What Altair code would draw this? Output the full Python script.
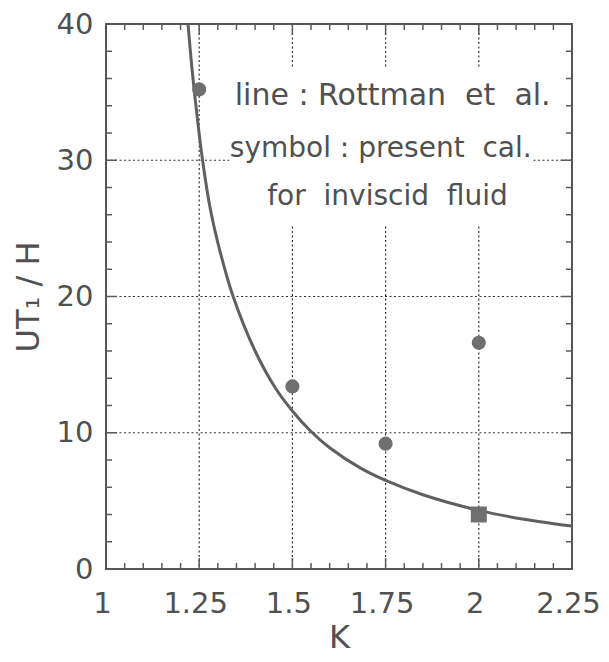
import altair as alt
import pandas as pd

# ---- data ----
# Rottman et al. curve (line)
curve_k = [1.220, 1.228, 1.240, 1.259, 1.280, 1.306, 1.341, 1.400, 1.454, 1.500,
           1.548, 1.600, 1.683, 1.750, 1.850, 2.000, 2.100, 2.250]
curve_u = [40.0, 37.5, 34.3, 30.0, 26.4, 23.3, 20.0, 16.0, 13.3, 11.6,
           10.15, 8.9, 7.4, 6.5, 5.45, 4.3, 3.75, 3.15]

# present calculation (symbols)
circle_k = [1.25, 1.5, 1.75, 2.0]
circle_u = [35.2, 13.4, 9.2, 16.6]
square_k = [2.0]
square_u = [4.0]

# axes
x_ticks = [1, 1.25, 1.5, 1.75, 2, 2.25]
y_ticks = [0, 10, 20, 30, 40]
x_grid = [1.25, 1.5, 1.75, 2.0]
y_grid = [10, 20, 30]
x_minor = [1.05, 1.10, 1.15, 1.20, 1.30, 1.35, 1.40, 1.45, 1.55, 1.60, 1.65, 1.70,
           1.80, 1.85, 1.90, 1.95, 2.05, 2.10, 2.15, 2.20]
y_minor = [2, 4, 6, 8, 12, 14, 16, 18, 22, 24, 26, 28, 32, 34, 36, 38]

# annotation (non-breaking spaces keep the wide word gaps)
NB = "\u00a0"
note_text = ["line" + NB + ":" + NB + "Rottman" + NB * 2 + "et" + NB * 2 + "al.",
             "symbol" + NB + ":" + NB + "present" + NB * 2 + "cal.",
             "for" + NB * 2 + "inviscid" + NB * 2 + "fluid"]
note_k = [1.769, 1.737, 1.755]
note_u = [34.06, 30.24, 26.7]
note_size = [30, 28, 28]
# white box behind the annotation (hides grid lines)
box_k = [1.331, 2.142]
box_u = [25.2, 36.8]

W, H = 466, 545
FONT = "DejaVu Sans"
TXT = "#505050"
INK = "#5a5a5a"

xs = alt.Scale(domain=[1, 2.25], nice=False, zero=False)
ys = alt.Scale(domain=[0, 40], nice=False, zero=False)

X_AX = alt.Axis(values=x_ticks, format=".3~g", title="K", grid=False, ticks=False,
                domain=False, labelFont=FONT, labelFontSize=29, labelColor=TXT,
                labelPadding=20, labelFlush=False, labelOffset=-4, tickSize=0,
                titleFont=FONT, titleFontSize=32, titleFontWeight="normal",
                titleColor=TXT, titleBaseline="alphabetic", titleY=78)
Y_AX = alt.Axis(values=y_ticks, format="d", title="UT\u2081 / H", grid=False,
                ticks=False, domain=False, labelFont=FONT, labelFontSize=29,
                labelColor=TXT, labelPadding=13, labelFlush=False, tickSize=0,
                titleFont=FONT, titleFontSize=32, titleFontWeight="normal",
                titleColor=TXT, titleAngle=270, titleBaseline="alphabetic",
                titleAlign="center", titleX=-68, titleY=H / 2)


def X(f="k:Q"):
    return alt.X(f, scale=xs, axis=X_AX)


def Y(f="u:Q"):
    return alt.Y(f, scale=ys, axis=Y_AX)


curve_df = pd.DataFrame({"k": curve_k, "u": curve_u})
circ_df = pd.DataFrame({"k": circle_k, "u": circle_u})
sq_df = pd.DataFrame({"k": square_k, "u": square_u})
xg_df = pd.DataFrame({"k": x_grid})
yg_df = pd.DataFrame({"u": y_grid})
xmin_df = pd.DataFrame({"k": x_minor})
ymin_df = pd.DataFrame({"u": y_minor})
note_df = pd.DataFrame({"k": note_k, "u": note_u, "t": note_text, "s": note_size})
box_df = pd.DataFrame({"k": [box_k[0]], "k2": [box_k[1]], "u": [box_u[0]], "u2": [box_u[1]]})

dash = [2, 2.5]

vgrid = alt.Chart(xg_df).mark_rule(color="#333", strokeWidth=1.2, strokeDash=dash).encode(
    x=X(), y=alt.value(0), y2=alt.value(H))

hgrid = alt.Chart(yg_df).mark_rule(color="#333", strokeWidth=1.2, strokeDash=dash).encode(
    y=Y(), x=alt.value(0), x2=alt.value(W))

box = alt.Chart(box_df).mark_rect(color="white").encode(
    x=X(), x2="k2:Q", y=Y(), y2="u2:Q")

line = alt.Chart(curve_df).mark_line(color="#606060", strokeWidth=3,
                                     interpolate="catmull-rom").encode(x=X(), y=Y())

circles = alt.Chart(circ_df).mark_point(shape="circle", filled=True, size=200, color="#6f6f6f",
                                        opacity=1).encode(x=X(), y=Y())

squares = alt.Chart(sq_df).mark_point(shape="square", filled=True, size=256, color="#6f6f6f",
                                      opacity=1).encode(x=X(), y=Y())

notes = alt.Chart(note_df).mark_text(font=FONT, color=TXT, align="center",
                                     baseline="alphabetic").encode(
    x=X(), y=Y(), text="t:N", size=alt.Size("s:Q", scale=None, legend=None))


def xt(df, y0, y1):
    return alt.Chart(df).mark_rule(color=INK, strokeWidth=1.5).encode(
        x=X(), y=alt.value(y0), y2=alt.value(y1))


def yt(df, x0, x1):
    return alt.Chart(df).mark_rule(color=INK, strokeWidth=1.5).encode(
        y=Y(), x=alt.value(x0), x2=alt.value(x1))


MAJ, MIN = 11, 6
ticks = [
    xt(xg_df, H, H - MAJ), xt(xmin_df, H, H - MIN),
    xt(xg_df, 0, MAJ), xt(xmin_df, 0, MIN),
    yt(yg_df, 0, MAJ), yt(ymin_df, 0, MIN),
    yt(yg_df, W, W - MAJ), yt(ymin_df, W, W - MIN),
]

chart = alt.layer(vgrid, hgrid, box, line, circles, squares, notes, *ticks).properties(
    width=W, height=H,
    autosize=alt.AutoSizeParams(type="none"),
    padding={"left": 98, "top": 16, "right": 29, "bottom": 85},
    background="white",
).configure_view(stroke="#555", strokeWidth=2)

chart.save("out.html", embed_options={"renderer": "svg", "actions": False})
